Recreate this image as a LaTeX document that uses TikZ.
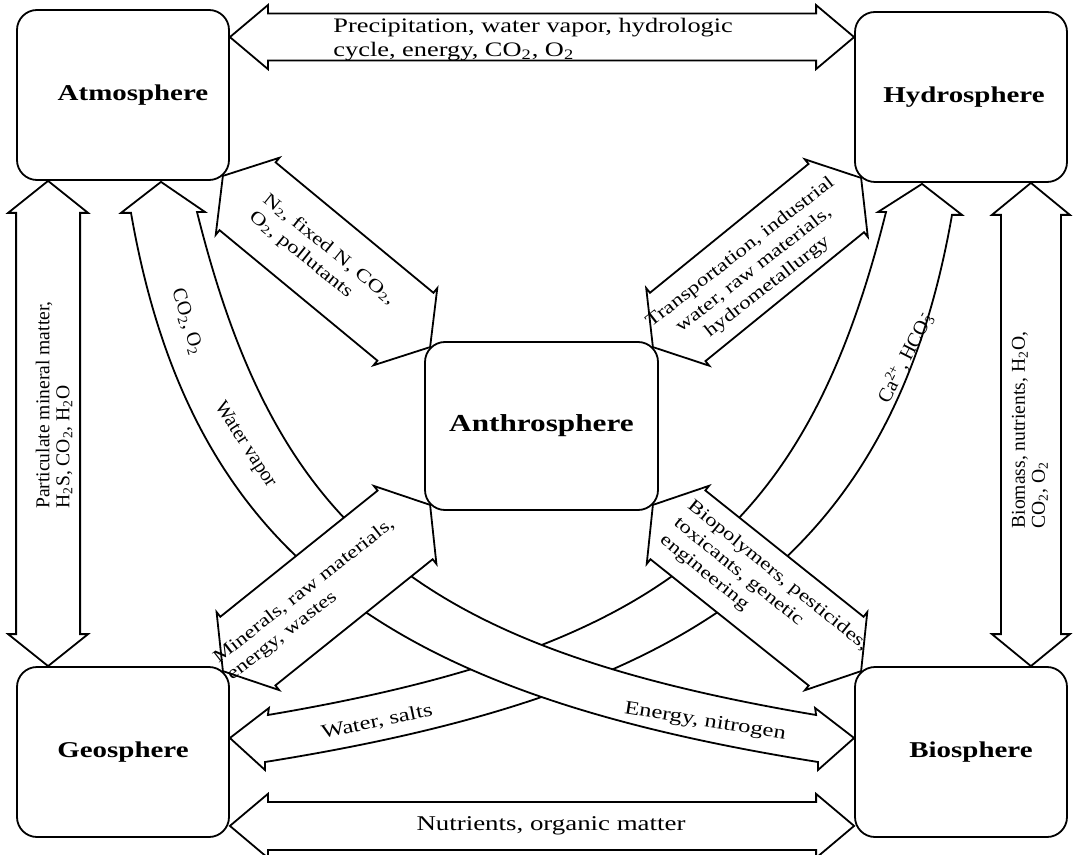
\documentclass[tikz,border=0pt]{standalone}
\usepackage{fontspec}
\setmainfont{Liberation Serif}
\newfontfamily\widefont[FakeStretch=1.28]{Liberation Serif}
\usetikzlibrary{calc,backgrounds}

% fat two-headed arrow: #1 from, #2 to, #3 half shaft, #4 half head, #5 head length
\newcommand{\twoway}[5]{%
  \filldraw[flow] (#1)
    -- ($(#1)!#5!(#2)!#4!90:(#2)$) -- ($(#1)!#5!(#2)!#3!90:(#2)$)
    -- ($(#2)!#5!(#1)!#3!-90:(#1)$) -- ($(#2)!#5!(#1)!#4!-90:(#1)$)
    -- (#2)
    -- ($(#2)!#5!(#1)!#4!90:(#1)$) -- ($(#2)!#5!(#1)!#3!90:(#1)$)
    -- ($(#1)!#5!(#2)!#3!-90:(#2)$) -- ($(#1)!#5!(#2)!#4!-90:(#2)$)
    -- cycle;}

\tikzset{
  sphere/.style={draw, fill=white, line width=0.9pt, rounded corners=10pt,
    minimum width=106pt, minimum height=85pt,
    font=\widefont\bfseries\fontsize{11.3}{13}\selectfont},
  flow/.style={draw, fill=white, line width=0.9pt, line join=miter},
  flat/.style={inner sep=0pt, font=\widefont\fontsize{10.3}{12}\selectfont, align=left},
  slant/.style={inner sep=0pt, font=\widefont\fontsize{9}{11}\selectfont},
  upright/.style={inner sep=0pt, font=\fontsize{9.8}{10}\selectfont, align=left},
}

\begin{document}
\begin{tikzpicture}[x=0.5pt, y=-0.5pt]
  \useasboundingbox (0,0) rectangle (1086,855);

  % the spheres
  \node[sphere] (atm) at (123,95) {\hspace*{10pt}Atmosphere};
  \node[sphere] (hyd) at (961,97) {\hspace*{3pt}Hydrosphere};
  \node[sphere] (geo) at (123,752) {Geosphere};
  \node[sphere] (bio) at (961,752) {\hspace*{10pt}Biosphere};
  \node[sphere, minimum width=116.5pt, minimum height=84pt,
    font=\widefont\bfseries\fontsize{12.2}{14}\selectfont] (anth) at (541.5,426) {\raisebox{-2pt}{Anthrosphere}};

  % arrow ends
  \coordinate (atmE) at ($(atm.north east)+(0,28)$);
  \coordinate (hydW) at (hyd.west |- atmE);
  \coordinate (geoE) at ($(geo.south east)+(0,-12)$);
  \coordinate (bioW) at (bio.west |- geoE);
  \coordinate (atmS) at ($(atm.south west)+(32,0)$);
  \coordinate (geoN) at (atmS |- geo.north);
  \coordinate (hydS) at ($(hyd.south east)+(-37,0)$);
  \coordinate (bioN) at (hydS |- bio.north);
  \coordinate (atmD) at ($(atm.south east)+(-7,-5)$);
  \coordinate (hydD) at ($(hyd.south west)+(7,-5)$);
  \coordinate (geoD) at ($(geo.north east)+(-7,5)$);
  \coordinate (bioD) at ($(bio.north west)+(7,5)$);
  \coordinate (anthA) at ($(anth.north west)+(6,6)$);
  \coordinate (anthH) at ($(anth.north east)+(-6,6)$);
  \coordinate (anthG) at ($(anth.south west)+(6,-6)$);
  \coordinate (anthB) at ($(anth.south east)+(-6,-6)$);
  \coordinate (atmArc) at ($(atm.south)+(38,1)$);
  \coordinate (bioArc) at ($(bio.west)+(0,-14)$);
  \coordinate (hydArc) at ($(hyd.south)+(-39,1)$);
  \coordinate (geoArc) at ($(geo.east)+(0,-14)$);

  \begin{scope}[on background layer]
    % curved flows
    \filldraw[flow] (hydArc) -- ++(40,31) -- ++(-10,0)
      .. controls (891,563) and (685,695) .. (265,762) -- ++(0,8) -- (geoArc)
      -- ++(39,-30) -- ++(-1,7)
      .. controls (669,647) and (807,528) .. (886,212) -- ++(-8,0) -- cycle;
    \filldraw[flow] (atmArc) -- ++(-40,31) -- ++(10,0)
      .. controls (192,563) and (398,695) .. (818,762) -- ++(0,8) -- (bioArc)
      -- ++(-39,-30) -- ++(1,7)
      .. controls (414,647) and (276,528) .. (197,212) -- ++(8,0) -- cycle;
    % straight flows
    \twoway{atmD}{anthA}{22pt}{25pt}{16pt}
    \twoway{hydD}{anthH}{22pt}{25pt}{16pt}
    \twoway{geoD}{anthG}{22pt}{25pt}{16pt}
    \twoway{bioD}{anthB}{22pt}{25pt}{16pt}
    \twoway{atmE}{hydW}{11.75pt}{16pt}{19pt}
    \twoway{geoE}{bioW}{12pt}{16pt}{19pt}
    \twoway{atmS}{geoN}{16pt}{20pt}{16pt}
    \twoway{hydS}{bioN}{15pt}{19.5pt}{16pt}
  \end{scope}

  % labels
  \node[flat, anchor=west] (tAH) at (333,40) {Precipitation, water vapor, hydrologic\\cycle, energy, CO\textsubscript{2}, O\textsubscript{2}};
  \node[flat, font=\widefont\fontsize{10.5}{12}\selectfont] (tGB) at (551,826) {Nutrients, organic matter};
  \node[upright, rotate=90] (tAG) at (54,405) {Particulate mineral matter,\\H\textsubscript{2}S, CO\textsubscript{2}, H\textsubscript{2}O};
  \node[upright, rotate=90] (tHB) at (1030,430) {Biomass, nutrients, H\textsubscript{2}O,\\CO\textsubscript{2}, O\textsubscript{2}};
  \node[slant, rotate=-39, align=left] (tAA) at (322,258) {N\textsubscript{2}, fixed N, CO\textsubscript{2},\\O\textsubscript{2}, pollutants};
  \node[slant, rotate=38, align=center] (tHA) at (754,270) {Transportation, industrial\\water, raw materials,\\hydrometallurgy};
  \node[slant, rotate=38, align=left] (tGA) at (311,600) {Minerals, raw materials,\\energy, wastes};
  \node[slant, rotate=-39, align=left] (tBA) at (764,593) {Biopolymers, pesticides,\\toxicants, genetic\\engineering};
  \node[upright, font=\fontsize{10}{11}\selectfont, rotate=-73] (tCO) at (187,322) {CO\textsubscript{2}, O\textsubscript{2}};
  \node[upright, font=\fontsize{10}{11}\selectfont, rotate=-57] (tWV) at (245,445) {Water vapor};
  \node[upright, font=\fontsize{10}{11}\selectfont, rotate=63] (tCa) at (905,358) {Ca\textsuperscript{2+}, HCO\textsubscript{3}\llap{\textsuperscript{-}}};
  \node[slant, font=\widefont\fontsize{9.6}{11}\selectfont, rotate=-9] (tEN) at (705,722) {Energy, nitrogen};
  \node[slant, font=\widefont\fontsize{9.6}{11}\selectfont, rotate=12] (tWS) at (377,722) {Water, salts};
\end{tikzpicture}
\end{document}
